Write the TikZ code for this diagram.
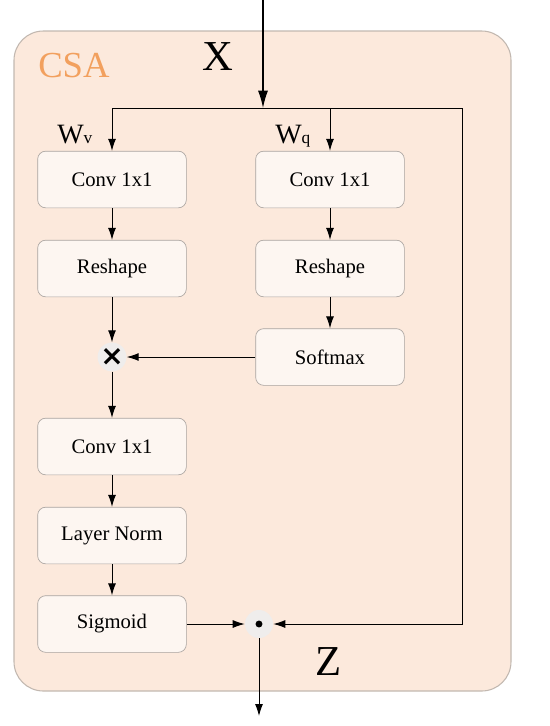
\documentclass[tikz,border=0pt]{standalone}
\usepackage{fontspec}
\setmainfont{Liberation Serif}
\newfontfamily\symfont{DejaVu Sans}
\usetikzlibrary{arrows.meta}

\definecolor{framefill}{HTML}{FCE9DC}
\definecolor{frameline}{HTML}{C2B8B0}
\definecolor{blkfill}{HTML}{FDF6F1}
\definecolor{blkline}{HTML}{A9A39F}
\definecolor{opfill}{HTML}{EFEDEC}
\definecolor{csaorange}{HTML}{F2A05E}

\tikzset{
  blk/.style={draw=blkline, fill=blkfill, rounded corners=6pt, line width=0.5pt,
    minimum width=111.5pt, minimum height=42.5pt, inner sep=0pt,
    font=\fontsize{15.5}{16}\selectfont},
  op/.style={circle, fill=opfill, minimum size=21pt, inner sep=0pt},
  arr/.style={-{Latex[length=9pt,width=6pt]}, line width=0.75pt},
  bigarr/.style={-{Latex[length=13pt,width=7.5pt]}, line width=0.9pt},
}

\begin{document}
\begin{tikzpicture}[x=0.75pt, y=-0.75pt]
  \useasboundingbox (0,0) rectangle (550,726);
  \draw[draw=frameline, fill=framefill, line width=0.8pt, rounded corners=22pt] (14,31) rectangle (511,691);
  \node[anchor=base west, text=csaorange, font=\fontsize{27.5}{28}\selectfont, inner sep=0pt] (csa) at (38,77) {CSA};

  % value / query branches
  \node[blk] (convv) at (112,179.5) {Conv 1x1};
  \node[blk] (reshv) at (112,268.5) {Reshape};
  \node[blk] (convq) at (330,179.5) {Conv 1x1};
  \node[blk] (reshq) at (330,268.5) {Reshape};
  \node[blk] (smax) at (330,357) {Softmax};
  \node[op] (mul) at (112,357) {\symfont\bfseries\fontsize{21}{21}\selectfont ×};
  \node[blk] (convz) at (112,446.5) {Conv 1x1};
  \node[blk] (lnorm) at (112,535.5) {Layer Norm};
  \node[blk] (sigm) at (112,624) {Sigmoid};
  \node[op] (dot) at (259,624) {};
  \fill (dot) circle (2.6pt);

  \node[anchor=base west, inner sep=0pt] (wv) at (57,143) {\fontsize{21}{21}\selectfont W\fontsize{13}{13}\selectfont v};
  \node[anchor=base west, inner sep=0pt] (wq) at (275,143) {\fontsize{21}{21}\selectfont W\fontsize{13}{13}\selectfont q};
  \node[font=\fontsize{32}{32}\selectfont] (xin) at (218,57) {X};
  \node[font=\fontsize{32}{32}\selectfont] (zout) at (329,662) {Z};

  \coordinate (top) at (263,0);
  \coordinate (split) at (263,108);
  \coordinate (lft) at (112,108);
  \coordinate (mid) at (330,108);
  \coordinate (rgt) at (462,108);
  \coordinate (bottom) at (259,716);

  \draw[bigarr] (top) -- (split);
  \draw[line width=0.75pt] (lft) -- (rgt);
  \draw[arr] (lft) -- (convv);
  \draw[arr] (mid) -- (convq);
  \draw[arr] (rgt) |- (dot);
  \draw[arr] (convv) -- (reshv);
  \draw[arr] (reshv) -- (mul);
  \draw[arr] (convq) -- (reshq);
  \draw[arr] (reshq) -- (smax);
  \draw[arr] (smax) -- (mul);
  \draw[arr] (mul) -- (convz);
  \draw[arr] (convz) -- (lnorm);
  \draw[arr] (lnorm) -- (sigm);
  \draw[arr] (sigm) -- (dot);
  \draw[arr] (dot) -- (bottom);
\end{tikzpicture}
\end{document}
